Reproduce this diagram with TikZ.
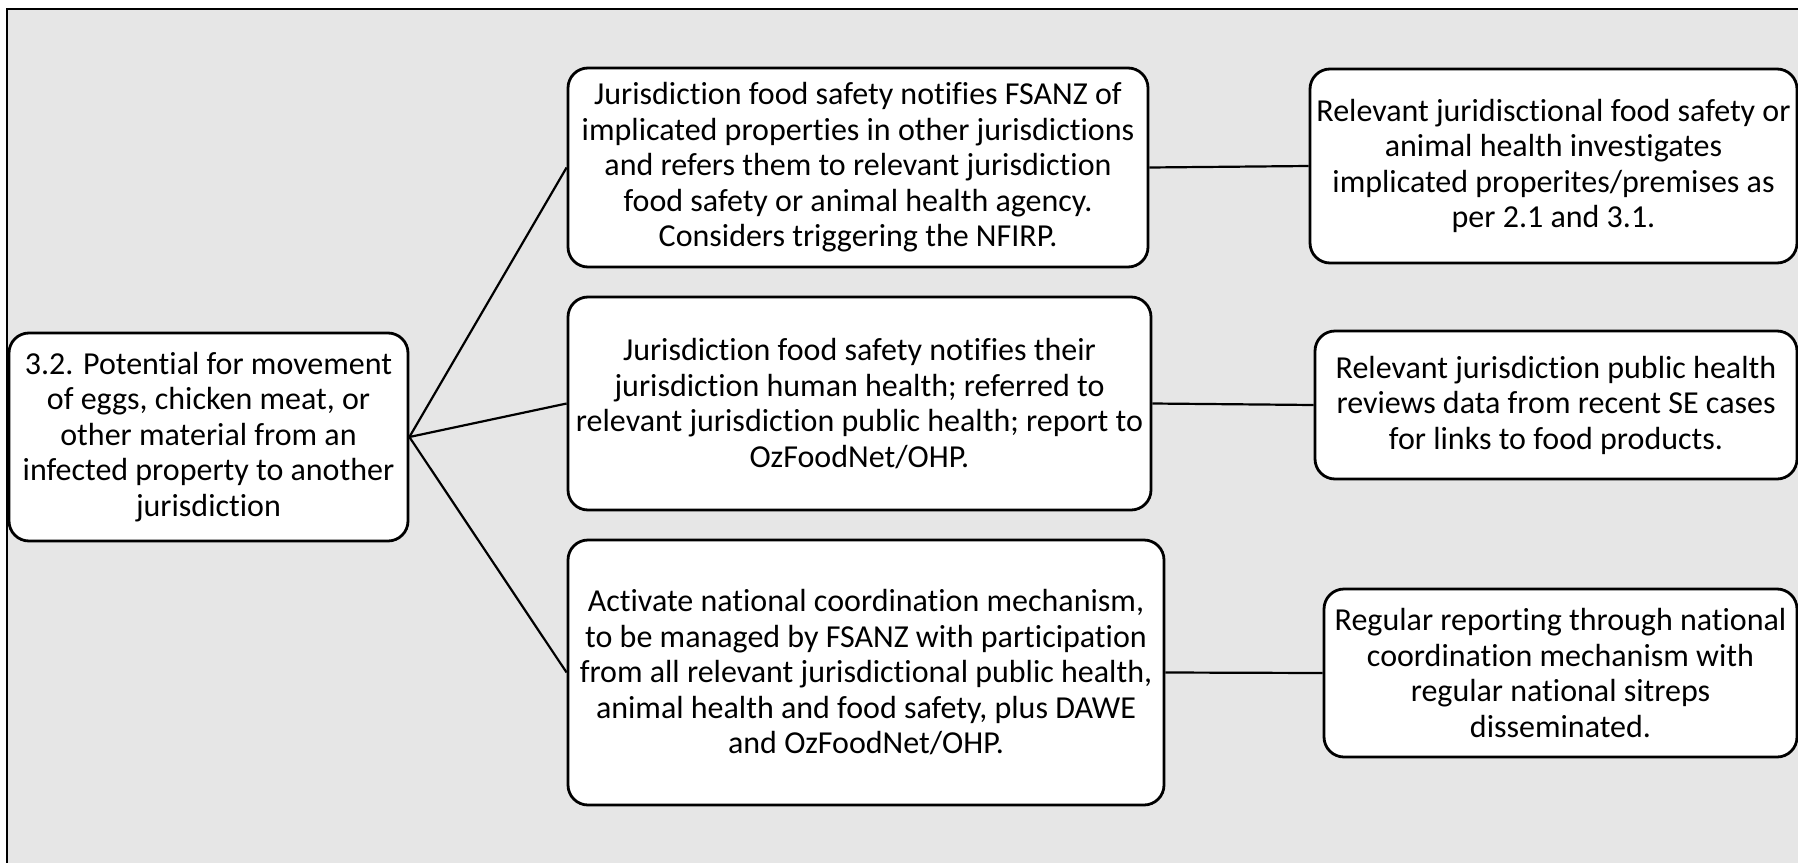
\documentclass[tikz,border=0pt]{standalone}
\usepackage{fontspec}
\setmainfont{Carlito}[Ligatures=NoCommon]
\definecolor{panel}{HTML}{E6E6E6}
\begin{document}
\begin{tikzpicture}[x=1pt,y=-1pt,
  box/.style={draw=black, line width=2.8pt, fill=white, rounded corners=20pt,
    align=center, inner sep=0pt, font=\fontsize{32}{35.5}\selectfont},
  link/.style={draw=black, line width=2.2pt}]
\useasboundingbox (0,0) rectangle (1798,862);
\clip (0,0) rectangle (1798,862);
\fill[white] (0,0) rectangle (1798,862);
% background panel, open towards the right and bottom
\draw[fill=panel, line width=2pt] (6.5,8.5) rectangle (1830,900);

% root step
\node[box, minimum width=399pt, minimum height=208pt] (root) at (208.5,437)
  {3.2. Potential for movement\\of eggs, chicken meat, or\\other material from an\\infected property to another\\jurisdiction};

% middle column
\node[box, minimum width=580pt, minimum height=199pt] (notify) at (858,167.5)
  {Jurisdiction food safety notifies FSANZ of\\implicated properties in other jurisdictions\\and refers them to relevant jurisdiction\\food safety or animal health agency.\\Considers triggering the NFIRP.};
\node[box, minimum width=583pt, minimum height=213pt] (health) at (859.5,403.5)
  {Jurisdiction food safety notifies their\\jurisdiction human health; referred to\\relevant jurisdiction public health; report to\\OzFoodNet/OHP.};
\node[box, minimum width=596pt, minimum height=265pt] (national) at (866,672.5)
  {Activate national coordination mechanism,\\to be managed by FSANZ with participation\\from all relevant jurisdictional public health,\\animal health and food safety, plus DAWE\\and OzFoodNet/OHP.};

% right column
\node[box, minimum width=487pt, minimum height=194pt] (investigate) at (1553.5,166)
  {Relevant juridisctional food safety or\\animal health investigates\\implicated properites/premises as\\per 2.1 and 3.1.};
\node[box, minimum width=482pt, minimum height=148pt] (review) at (1556,405)
  {Relevant jurisdiction public health\\reviews data from recent SE cases\\for links to food products.};
\node[box, minimum width=473pt, minimum height=168pt] (report) at (1560.5,673)
  {Regular reporting through national\\coordination mechanism with\\regular national sitreps\\disseminated.};

% connectors
\draw[link] (root.east) -- (notify.west);
\draw[link] (root.east) -- (health.west);
\draw[link] (root.east) -- (national.west);
\draw[link] (notify.east) -- (investigate.west);
\draw[link] (health.east) -- (review.west);
\draw[link] (national.east) -- (report.west);
\end{tikzpicture}
\end{document}
